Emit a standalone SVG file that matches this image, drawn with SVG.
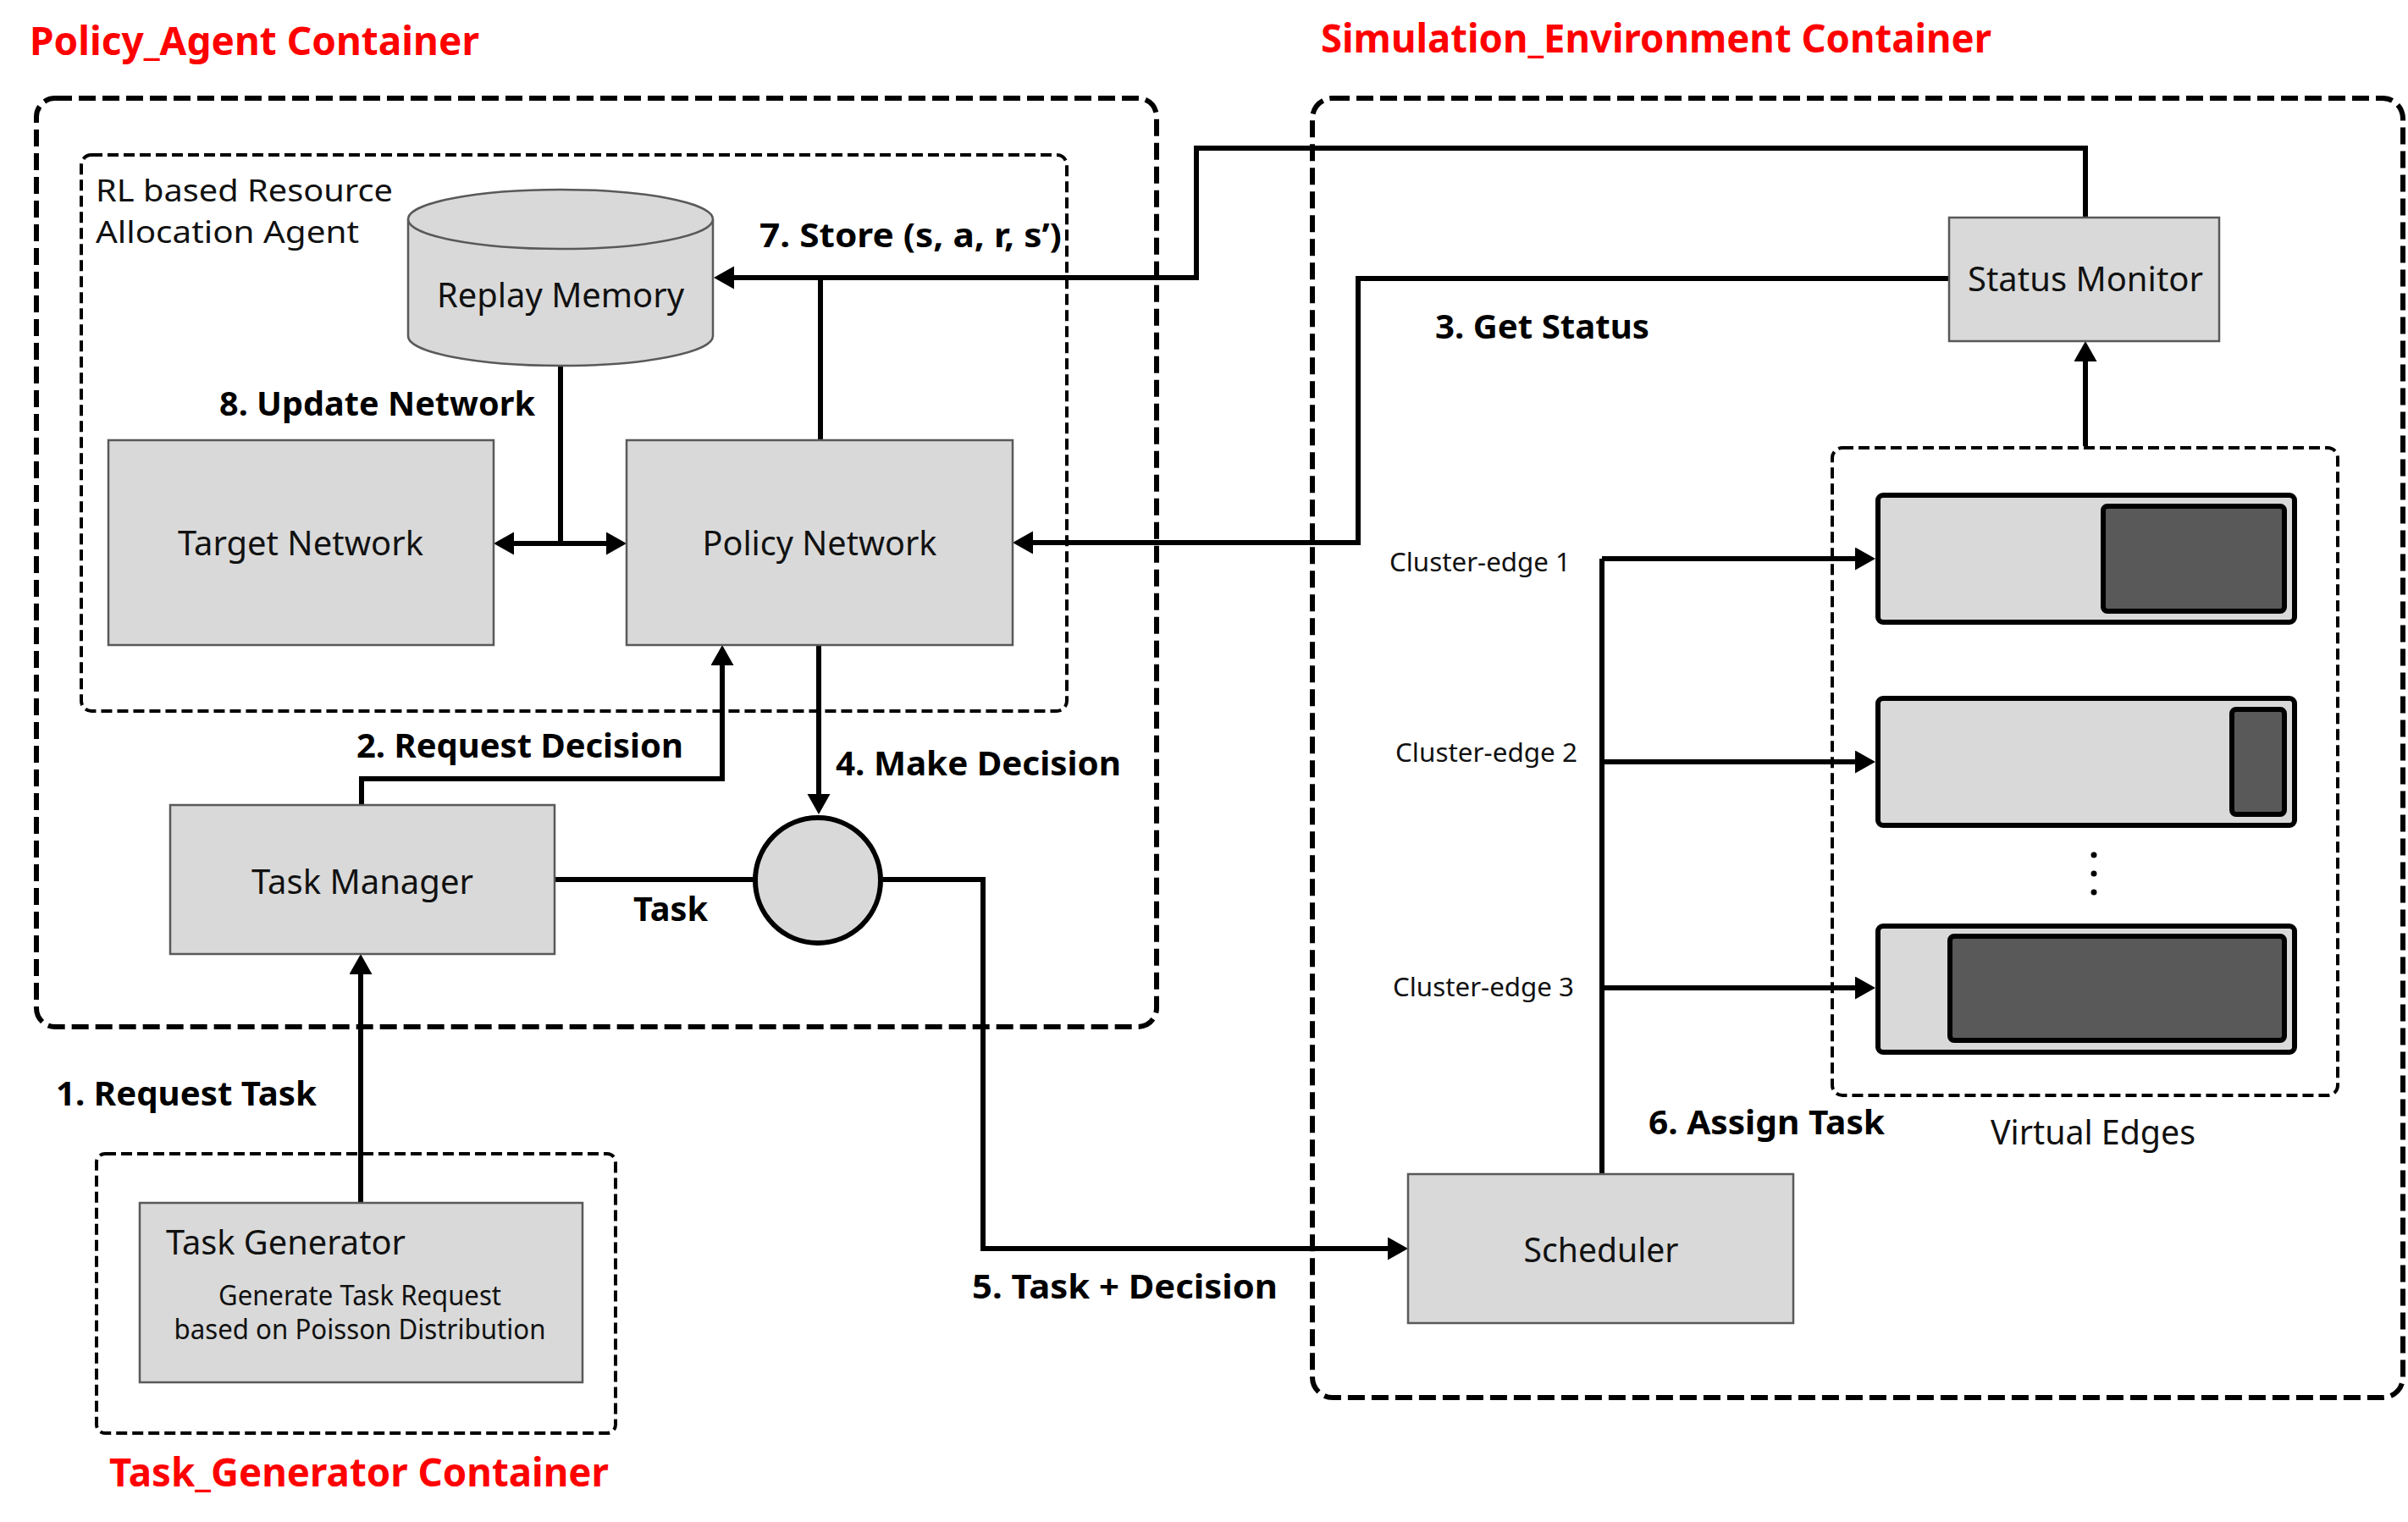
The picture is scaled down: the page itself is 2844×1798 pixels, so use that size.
<svg xmlns="http://www.w3.org/2000/svg" width="2844" height="1798" viewBox="0 0 2844 1798">
<style>
text{font-family:"Noto Sans","Open Sans","Liberation Sans",sans-serif;}
.title{font-size:46px;font-weight:bold;fill:#ff0000;}
.lbl{font-size:40px;font-weight:bold;fill:#000;}
.node{font-size:40px;fill:#111;}
.cap{font-size:36px;fill:#111;}
.small{font-size:31px;fill:#111;}
.sub{font-size:32px;fill:#111;}
.box{fill:#d9d9d9;stroke:#595959;stroke-width:2.5;}
.outer{fill:none;stroke:#000;stroke-width:6;stroke-dasharray:20 8;}
.inner{fill:none;stroke:#000;stroke-width:4;stroke-dasharray:13 6;}
.ve{fill:#d9d9d9;stroke:#000;stroke-width:6;}
.vei{fill:#595959;stroke:#000;stroke-width:6;}
.conn{fill:none;stroke:#000;stroke-width:6;stroke-linejoin:miter;}
</style>
<defs>
<marker id="ah" markerUnits="userSpaceOnUse" markerWidth="26" markerHeight="28" refX="1" refY="13.5" orient="auto-start-reverse">
<path d="M0,0 L24,13.5 L0,27 z" fill="#000"/>
</marker>
</defs>

<!-- containers -->
<g id="policy-agent-container">
<rect class="outer" x="43" y="116" width="1323" height="1097" rx="22"/>
<text class="title" x="35" y="65" textLength="531" lengthAdjust="spacingAndGlyphs">Policy_Agent Container</text>
</g>
<g id="rl-agent">
<rect class="inner" x="96" y="183" width="1164" height="657" rx="12"/>
<text class="cap" x="113" y="238" textLength="351" lengthAdjust="spacingAndGlyphs">RL based Resource</text>
<text class="cap" x="113" y="287" textLength="311" lengthAdjust="spacingAndGlyphs">Allocation Agent</text>
</g>
<g id="simulation-container">
<rect class="outer" x="1550" y="116" width="1288" height="1535" rx="24"/>
<text class="title" x="1560" y="62" textLength="792" lengthAdjust="spacingAndGlyphs">Simulation_Environment Container</text>
</g>
<g id="task-generator-container">
<rect class="inner" x="114" y="1363" width="613" height="330" rx="10"/>
<text class="title" x="129" y="1756" textLength="590" lengthAdjust="spacingAndGlyphs">Task_Generator Container</text>
</g>

<!-- connectors -->
<g id="connectors">
<path class="conn" d="M662,432 V642"/>
<path class="conn" d="M606,642 H717" marker-start="url(#ah)" marker-end="url(#ah)"/>
<path class="conn" d="M2463,257 V175 H1413 V328 H866" marker-end="url(#ah)"/>
<path class="conn" d="M969,520 V328"/>
<path class="conn" d="M2302,329 H1604 V641 H1219" marker-end="url(#ah)"/>
<path class="conn" d="M427,951 V920 H853 V785" marker-end="url(#ah)"/>
<path class="conn" d="M967,762 V939" marker-end="url(#ah)"/>
<path class="conn" d="M655,1039 H890"/>
<path class="conn" d="M1043,1039 H1161 V1475 H1640" marker-end="url(#ah)"/>
<path class="conn" d="M426,1421 V1150" marker-end="url(#ah)"/>
<path class="conn" d="M2463,527 V426" marker-end="url(#ah)"/>
<path class="conn" d="M1892,1387 V660"/>
<path class="conn" d="M1892,660 H2192" marker-end="url(#ah)"/>
<path class="conn" d="M1892,900 H2192" marker-end="url(#ah)"/>
<path class="conn" d="M1892,1167 H2192" marker-end="url(#ah)"/>
<text class="lbl" x="897" y="292" textLength="357" lengthAdjust="spacingAndGlyphs">7. Store (s, a, r, s’)</text>
<text class="lbl" x="259" y="491" textLength="373" lengthAdjust="spacingAndGlyphs">8. Update Network</text>
<text class="lbl" x="1695" y="400" textLength="253" lengthAdjust="spacingAndGlyphs">3. Get Status</text>
<text class="lbl" x="421" y="895" textLength="386" lengthAdjust="spacingAndGlyphs">2. Request Decision</text>
<text class="lbl" x="987" y="916" textLength="337" lengthAdjust="spacingAndGlyphs">4. Make Decision</text>
<text class="lbl" x="748" y="1088" textLength="88" lengthAdjust="spacingAndGlyphs">Task</text>
<text class="lbl" x="1148" y="1534" textLength="361" lengthAdjust="spacingAndGlyphs">5. Task + Decision</text>
<text class="lbl" x="66" y="1306" textLength="308" lengthAdjust="spacingAndGlyphs">1. Request Task</text>
<text class="lbl" x="1947" y="1340" textLength="279" lengthAdjust="spacingAndGlyphs">6. Assign Task</text>
<text class="small" x="1641" y="675" textLength="214" lengthAdjust="spacingAndGlyphs">Cluster-edge 1</text>
<text class="small" x="1648" y="900" textLength="215" lengthAdjust="spacingAndGlyphs">Cluster-edge 2</text>
<text class="small" x="1645" y="1177" textLength="214" lengthAdjust="spacingAndGlyphs">Cluster-edge 3</text>
</g>

<!-- nodes -->
<g id="replay-memory">
<path class="box" d="M482,259 V397 A180,35 0 0 0 842,397 V259"/>
<ellipse class="box" cx="662" cy="259" rx="180" ry="35"/>
<text class="node" x="662" y="363" text-anchor="middle" textLength="292" lengthAdjust="spacingAndGlyphs">Replay Memory</text>
</g>
<g id="target-network">
<rect class="box" x="128" y="520" width="455" height="242"/>
<text class="node" x="355" y="656" text-anchor="middle" textLength="290" lengthAdjust="spacingAndGlyphs">Target Network</text>
</g>
<g id="policy-network">
<rect class="box" x="740" y="520" width="456" height="242"/>
<text class="node" x="968" y="656" text-anchor="middle" textLength="277" lengthAdjust="spacingAndGlyphs">Policy Network</text>
</g>
<g id="task-manager">
<rect class="box" x="201" y="951" width="454" height="176"/>
<text class="node" x="428" y="1056" text-anchor="middle" textLength="262" lengthAdjust="spacingAndGlyphs">Task Manager</text>
</g>
<g id="decision-merge">
<circle cx="966" cy="1040" r="74" fill="#d9d9d9" stroke="#000" stroke-width="6"/>
</g>
<g id="task-generator">
<rect class="box" x="165" y="1421" width="523" height="212"/>
<text class="node" x="196" y="1482" textLength="283" lengthAdjust="spacingAndGlyphs">Task Generator</text>
<text class="sub" x="425" y="1542" text-anchor="middle" textLength="334" lengthAdjust="spacingAndGlyphs">Generate Task Request</text>
<text class="sub" x="425" y="1582" text-anchor="middle" textLength="439" lengthAdjust="spacingAndGlyphs">based on Poisson Distribution</text>
</g>
<g id="status-monitor">
<rect class="box" x="2302" y="257" width="319" height="146"/>
<text class="node" x="2463" y="344" text-anchor="middle" textLength="278" lengthAdjust="spacingAndGlyphs">Status Monitor</text>
</g>
<g id="scheduler">
<rect class="box" x="1663" y="1387" width="455" height="176"/>
<text class="node" x="1891" y="1491" text-anchor="middle" textLength="183" lengthAdjust="spacingAndGlyphs">Scheduler</text>
</g>
<g id="virtual-edges">
<rect class="inner" x="2164" y="529" width="597" height="765" rx="12"/>
<rect class="ve" x="2218" y="585" width="492" height="150" rx="6"/>
<rect class="vei" x="2484" y="598" width="214" height="124" rx="5"/>
<rect class="ve" x="2218" y="825" width="492" height="150" rx="6"/>
<rect class="vei" x="2636" y="838" width="62" height="124" rx="5"/>
<circle cx="2473" cy="1010" r="3.5" fill="#000"/>
<circle cx="2473" cy="1032" r="3.5" fill="#000"/>
<circle cx="2473" cy="1054" r="3.5" fill="#000"/>
<rect class="ve" x="2218" y="1094" width="492" height="149" rx="6"/>
<rect class="vei" x="2303" y="1106" width="395" height="123" rx="5"/>
<text class="node" x="2472" y="1352" text-anchor="middle" textLength="242" lengthAdjust="spacingAndGlyphs">Virtual Edges</text>
</g>
</svg>
